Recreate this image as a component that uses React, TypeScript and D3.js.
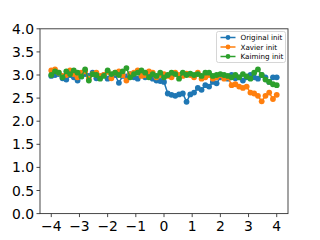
import React from "react";
import * as d3 from "d3";

const N = 61;
const xs: number[] = Array.from({ length: N }, (_, i) => -4 + (8 * i) / (N - 1));

const original: number[] = [
  2.98, 3.0, 3.02, 2.93, 2.9, 3.0, 2.95, 2.88, 2.97, 3.02,
  2.98, 3.05, 2.93, 2.96, 3.0, 2.92, 2.97, 3.0, 2.83, 2.98,
  2.97, 3.02, 2.95, 2.92, 3.05, 2.95, 2.97, 2.92, 2.88, 2.87,
  2.85, 2.6, 2.57, 2.55, 2.58, 2.6, 2.42, 2.58, 2.62, 2.72,
  2.68, 2.78, 2.75, 2.85, 2.82, 2.95, 2.98, 2.92, 3.0, 2.93,
  2.95, 2.88, 2.95, 3.0, 2.95, 2.92, 3.0, 2.95, 2.85, 2.95,
  2.95,
];
const xavier: number[] = [
  3.1, 3.12, 3.05, 2.98, 3.0, 3.1, 3.02, 2.95, 3.05, 3.08,
  2.92, 3.02, 3.05, 2.98, 3.0, 3.07, 2.93, 3.05, 3.08, 3.0,
  2.88, 3.02, 3.05, 3.1, 2.98, 3.0, 3.08, 3.05, 2.95, 3.0,
  3.02, 2.98, 2.95, 3.05, 3.0, 2.98, 3.03, 3.0, 2.95, 3.05,
  2.92, 2.95, 3.0, 2.92, 2.95, 3.0, 2.92, 2.95, 2.78, 2.8,
  2.75, 2.72, 2.75, 2.62, 2.6, 2.55, 2.43, 2.55, 2.62, 2.48,
  2.57,
];
const kaiming: number[] = [
  3.0, 3.08, 3.05, 2.95, 3.08, 3.02, 3.1, 3.05, 2.97, 3.12,
  2.88, 3.02, 3.0, 2.92, 2.98, 3.1, 3.02, 3.05, 3.0, 3.08,
  3.15, 2.95, 3.02, 3.05, 3.1, 3.05, 2.95, 3.02, 2.98, 3.05,
  2.95, 3.0, 3.05, 3.02, 2.92, 3.05, 3.0, 3.03, 3.0, 3.02,
  2.98, 3.05, 3.05, 2.98, 3.0, 3.02, 3.0, 2.98, 2.95, 3.0,
  2.95, 3.02, 2.97, 2.92, 3.05, 3.12, 3.0, 2.9, 2.85, 2.8,
  2.78,
];

const seriesNames = ["Original init", "Xavier init", "Kaiming init"];
const seriesColors = ["#1f77b4", "#ff7f0e", "#2ca02c"];
const seriesData = [original, xavier, kaiming];
const xTicks = [-4, -3, -2, -1, 0, 1, 2, 3, 4];
const yTicks = [0, 0.5, 1, 1.5, 2, 2.5, 3, 3.5, 4];

export default function App() {
  const W = 320, H = 240;
  const L = 40, R = 288, T = 28.8, B = 213.6;
  const x = d3.scaleLinear().domain([-4.4, 4.4]).range([L, R]);
  const y = d3.scaleLinear().domain([0, 4]).range([B, T]);
  const line = d3.line<number>().x((_, i) => x(xs[i])).y((d) => y(d));
  const font = "DejaVu Sans, sans-serif";
  const lgX = 216.5, lgY = 31.5, lgW = 69, lgH = 31;
  return (
    <svg width={W} height={H} style={{ position: "absolute", left: 0, top: 0 }}>
      <rect x={0} y={0} width={W} height={H} fill="#fff" />
      {seriesData.map((s, k) => (
        <g key={k}>
          <path d={line(s) || ""} fill="none" stroke={seriesColors[k]} strokeWidth={1.5} />
          {s.map((v, i) => (
            <circle key={i} cx={x(xs[i])} cy={y(v)} r={2.9} fill={seriesColors[k]} />
          ))}
        </g>
      ))}
      <rect x={L} y={T} width={R - L} height={B - T} fill="none" stroke="#333" strokeWidth={0.9} />
      {xTicks.map((t) => (
        <g key={t}>
          <line x1={x(t)} x2={x(t)} y1={B} y2={B + 3.5} stroke="#333" strokeWidth={0.9} />
          <text x={x(t)} y={B + 17} fontSize={13.9} fontFamily={font} textAnchor="middle" fill="#000">
            {t < 0 ? "\u2212" + Math.abs(t) : String(t)}
          </text>
        </g>
      ))}
      {yTicks.map((t) => (
        <g key={t}>
          <line x1={L - 3.5} x2={L} y1={y(t)} y2={y(t)} stroke="#333" strokeWidth={0.9} />
          <text x={L - 6} y={y(t) + 5} fontSize={13.9} fontFamily={font} textAnchor="end" fill="#000">
            {t.toFixed(1)}
          </text>
        </g>
      ))}
      <rect x={lgX} y={lgY} width={lgW} height={lgH} rx={2} fill="#fff" fillOpacity={0.8} stroke="#ccc" strokeWidth={0.8} />
      {seriesNames.map((n, k) => {
        const yy = lgY + 6 + k * 9.5;
        return (
          <g key={n}>
            <line x1={lgX + 4} x2={lgX + 19} y1={yy} y2={yy} stroke={seriesColors[k]} strokeWidth={1.5} />
            <circle cx={lgX + 11.5} cy={yy} r={2.4} fill={seriesColors[k]} />
            <text x={lgX + 24} y={yy + 2.5} fontSize={7.2} fontFamily={font} fill="#000">
              {n}
            </text>
          </g>
        );
      })}
    </svg>
  );
}
